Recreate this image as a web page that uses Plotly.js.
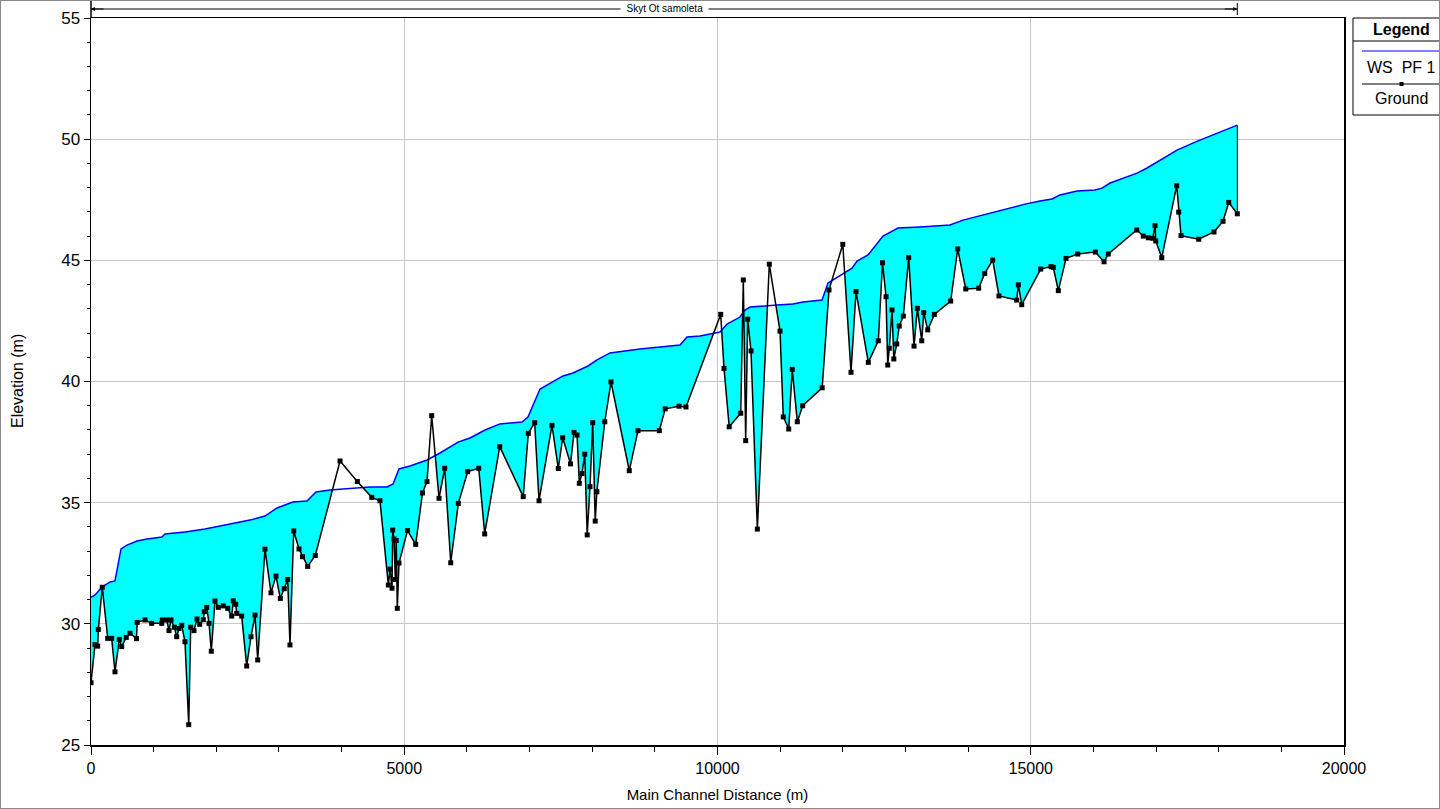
<!DOCTYPE html>
<html>
<head>
<meta charset="utf-8">
<script src="https://cdn.plot.ly/plotly-3.0.1.min.js"></script>
<style>
  html, body { margin: 0; padding: 0; background: #ffffff; }
  #wrap { position: relative; width: 1440px; height: 809px; overflow: hidden; }
  #chart { width: 1440px; height: 809px; }
  #frame { position: absolute; left: 0; top: 0; width: 1440px; height: 809px;
           box-sizing: border-box; border: 1px solid #8a8a8a; pointer-events: none; }
</style>
</head>
<body>
<div id="wrap">
  <div id="chart"></div>
  <div id="frame"></div>
</div>
<script>
// Profile: main channel distance (m) and elevations (m)
const groundDist = [
  0, 64, 107, 117, 180, 267, 330, 383, 452, 490, 563, 623, 726, 737, 862, 969,
  1129, 1138, 1208, 1245, 1277, 1330, 1368, 1405, 1448, 1500, 1560, 1591, 1644,
  1692, 1735, 1793, 1808, 1847, 1884, 1920, 1979, 2032, 2112, 2182, 2246, 2271,
  2310, 2326, 2405, 2485, 2554, 2618, 2661, 2777, 2873, 2953, 3022, 3085, 3140,
  3176, 3236, 3320, 3376, 3459, 3580, 3975, 4251, 4481, 4613, 4746, 4773, 4805,
  4816, 4837, 4857, 4872, 4889, 4916, 5052, 5183, 5291, 5363, 5438, 5555, 5646,
  5742, 5863, 6013, 6189, 6284, 6524, 6899, 6980, 7082, 7151, 7358, 7459, 7529,
  7654, 7710, 7758, 7794, 7837, 7881, 7920, 7965, 8008, 8048, 8074, 8201, 8300,
  8592, 8731, 9071, 9165, 9386, 9497, 10051, 10104, 10187, 10371, 10412, 10450,
  10482, 10535, 10636, 10827, 10998, 11050, 11137, 11193, 11274, 11360, 11671,
  11780, 12000, 12131, 12211, 12407, 12567, 12634, 12690, 12717, 12742, 12786,
  12814, 12861, 12901, 12966, 13052, 13137, 13190, 13260, 13292, 13356, 13461,
  13722, 13834, 13962, 14169, 14265, 14393, 14493, 14776, 14802, 14856, 15159,
  15324, 15360, 15440, 15563, 15750, 16031, 16170, 16238, 16692, 16797, 16877,
  16947, 16984, 16995, 17091, 17330, 17362, 17399, 17681, 17925, 18069, 18160,
  18297
];
const groundElev = [
  27.57, 29.14, 29.08, 29.77, 31.51, 29.40, 29.40, 28.02, 29.36, 29.06, 29.44,
  29.61, 29.39, 30.06, 30.16, 30.02, 30.02, 30.16, 30.16, 29.72, 30.16, 29.86,
  29.47, 29.81, 29.94, 29.26, 25.84, 29.86, 29.72, 30.20, 29.98, 30.17, 30.50,
  30.68, 30.02, 28.87, 30.94, 30.68, 30.74, 30.64, 30.32, 30.95, 30.81, 30.43,
  30.32, 28.26, 29.47, 30.36, 28.51, 33.08, 31.28, 31.97, 31.05, 31.45, 31.83,
  29.13, 33.83, 33.09, 32.77, 32.37, 32.82, 36.72, 35.87, 35.22, 35.08, 31.60,
  32.26, 31.47, 33.87, 33.50, 31.83, 33.44, 30.64, 32.51, 33.85, 33.28, 35.40,
  35.87, 38.59, 35.18, 36.42, 32.52, 34.97, 36.28, 36.42, 33.71, 37.31, 35.25,
  37.86, 38.30, 35.08, 38.19, 36.41, 37.68, 36.60, 37.90, 37.79, 35.80, 36.20,
  37.00, 33.67, 35.66, 38.30, 34.24, 35.45, 38.34, 39.98, 36.32, 37.97, 37.97,
  38.87, 38.98, 38.95, 42.77, 40.54, 38.13, 38.69, 44.19, 37.56, 42.57, 41.26,
  33.91, 44.84, 42.08, 38.54, 38.04, 40.50, 38.34, 39.00, 39.74, 43.78, 45.66,
  40.38, 43.71, 40.79, 41.68, 44.90, 43.50, 40.68, 41.37, 42.95, 40.93, 41.55,
  42.29, 42.70, 45.11, 41.46, 43.02, 41.68, 42.84, 42.13, 42.77, 43.32, 45.47,
  43.82, 43.85, 44.46, 45.01, 43.53, 43.36, 43.99, 43.17, 44.64, 44.74, 44.71,
  43.75, 45.08, 45.26, 45.34, 44.94, 45.26, 46.25, 46.00, 45.93, 45.91, 46.43,
  45.80, 45.11, 48.08, 46.99, 46.02, 45.87, 46.17, 46.61, 47.39, 46.92
];
// Water surface, profile PF 1
const wsDist = [
  0, 64, 176, 303, 383, 479, 575, 734, 894, 1133, 1181, 1500, 1820, 2139, 2346,
  2538, 2777, 2969, 3224, 3448, 3591, 3815, 4453, 4725, 4821, 4916, 5092, 5363,
  5571, 5858, 6050, 6289, 6528, 6880, 6975, 7087, 7167, 7534, 7694, 7933, 8077,
  8284, 8763, 9402, 9513, 9721, 10040, 10152, 10359, 10439, 10519, 10950, 11205,
  11365, 11668, 11764, 11844, 12147, 12227, 12402, 12642, 12881, 13232, 13711,
  13919, 14350, 14669, 14908, 15148, 15340, 15467, 15739, 16026, 16138, 16266,
  16697, 16856, 17016, 17335, 17622, 17941, 18297
];
const wsElev = [
  31.09, 31.19, 31.52, 31.73, 31.77, 33.09, 33.25, 33.42, 33.50, 33.58, 33.71,
  33.79, 33.91, 34.08, 34.20, 34.28, 34.45, 34.78, 35.03, 35.07, 35.44, 35.52,
  35.65, 35.65, 35.77, 36.39, 36.51, 36.76, 37.05, 37.50, 37.67, 38.00, 38.25,
  38.33, 38.53, 39.24, 39.69, 40.23, 40.35, 40.64, 40.89, 41.18, 41.34, 41.51,
  41.84, 41.88, 42.04, 42.37, 42.66, 42.95, 43.07, 43.16, 43.20, 43.28, 43.36,
  44.06, 44.19, 44.68, 44.97, 45.22, 46.00, 46.33, 46.38, 46.46, 46.66, 46.95,
  47.16, 47.32, 47.45, 47.53, 47.70, 47.86, 47.90, 47.98, 48.19, 48.60, 48.81,
  49.06, 49.55, 49.88, 50.21, 50.58
];
const xTickVals = [0, 5000, 10000, 15000, 20000];
const yTickVals = [25, 30, 35, 40, 45, 50, 55];
const reachName = 'Skyt Ot samoleta';
const wsName = 'WS  PF 1';
const groundName = 'Ground';

// Linear interpolation on a monotonic station list
function interp(xs, ys, x) {
  if (x <= xs[0]) return ys[0];
  if (x >= xs[xs.length - 1]) return ys[ys.length - 1];
  let i = 1;
  while (xs[i] < x) i++;
  const t = (x - xs[i - 1]) / (xs[i] - xs[i - 1]);
  return ys[i - 1] + t * (ys[i] - ys[i - 1]);
}

// Water area: between ground and water surface wherever water stands above ground
const stations = Array.from(new Set(groundDist.concat(wsDist))).sort((a, b) => a - b);
const upX = [], upY = [], loY = [];
for (let k = 0; k < stations.length; k++) {
  const x = stations[k];
  const g = interp(groundDist, groundElev, x);
  const w = interp(wsDist, wsElev, x);
  if (k > 0) {
    const xp = stations[k - 1];
    const gp = interp(groundDist, groundElev, xp);
    const wp = interp(wsDist, wsElev, xp);
    const d0 = wp - gp, d1 = w - g;
    if (d0 * d1 < 0) {
      const xc = xp + (d0 / (d0 - d1)) * (x - xp);
      const gc = interp(groundDist, groundElev, xc);
      upX.push(xc); upY.push(gc); loY.push(gc);
    }
  }
  upX.push(x); upY.push(Math.max(w, g)); loY.push(g);
}
const fillX = upX.concat(upX.slice().reverse());
const fillY = upY.concat(loY.slice().reverse());

const lastG = groundElev[groundElev.length - 1];
const lastW = wsElev[wsElev.length - 1];
const reachEnd = groundDist[groundDist.length - 1];

const FONT = 'Arial, "Liberation Sans", sans-serif';

const traces = [
  { x: fillX, y: fillY, mode: 'lines', fill: 'toself', fillcolor: '#00ffff',
    line: { width: 0, color: 'rgba(0,0,0,0)' }, hoverinfo: 'skip', showlegend: false },
  { x: [reachEnd, reachEnd], y: [lastG, lastW], mode: 'lines',
    line: { color: '#000000', width: 1 }, hoverinfo: 'skip', showlegend: false },
  { x: wsDist, y: wsElev, name: wsName, mode: 'lines',
    line: { color: '#0000ff', width: 1.5 }, showlegend: false },
  { x: groundDist, y: groundElev, name: groundName, mode: 'lines+markers',
    line: { color: '#000000', width: 1.5 },
    marker: { symbol: 'square', size: 5, color: '#000000' }, showlegend: false }
];

// Pixel helpers for decorations outside the plotting area (paper coordinates)
const px = v => (v - 91) / 1253;
const py = v => (745 - v) / 727;
const L = px(1353), R = px(1460), T = py(18), B = py(115);

const shapes = [
  // reach extent line
  { type: 'line', xref: 'x', yref: 'paper', x0: 0, x1: reachEnd, y0: py(9), y1: py(9),
    line: { color: '#000000', width: 1 } },
  { type: 'line', xref: 'x', yref: 'paper', x0: reachEnd, x1: reachEnd, y0: py(3), y1: py(15),
    line: { color: '#000000', width: 1 } },
  { type: 'line', xref: 'paper', yref: 'paper', x0: 0, x1: 0, y0: 1, y1: py(1),
    line: { color: '#000000', width: 1.5 } },
  // legend frame
  { type: 'path', xref: 'paper', yref: 'paper',
    path: `M ${L} ${B} L ${L} ${T} L ${R} ${T} L ${R} ${B} Z`,
    line: { color: '#000000', width: 1 }, fillcolor: '#ffffff' },
  { type: 'line', xref: 'paper', yref: 'paper', x0: L, x1: R, y0: py(41), y1: py(41),
    line: { color: '#000000', width: 1 } },
  { type: 'line', xref: 'paper', yref: 'paper', x0: px(1362), x1: R, y0: py(51), y1: py(51),
    line: { color: '#0000ff', width: 1.2 } },
  { type: 'line', xref: 'paper', yref: 'paper', x0: px(1362), x1: px(1440), y0: py(84), y1: py(84),
    line: { color: '#000000', width: 1 } },
  { type: 'rect', xref: 'paper', yref: 'paper', x0: px(1399.5), x1: px(1403.5), y0: py(86), y1: py(82),
    line: { width: 0 }, fillcolor: '#000000' }
];

const ann = (x, y, text, size, extra) => Object.assign({
  xref: 'paper', yref: 'paper', x: x, y: y, text: text, showarrow: false,
  xanchor: 'center', yanchor: 'middle', font: { family: FONT, size: size, color: '#000000' }
}, extra || {});

const annotations = [
  { xref: 'x', yref: 'paper', x: reachEnd / 2, y: py(9), text: '&nbsp;&nbsp;' + reachName + '&nbsp;&nbsp;',
    showarrow: false, xanchor: 'center', yanchor: 'middle', bgcolor: '#ffffff',
    font: { family: FONT, size: 10, color: '#000000' }, borderpad: 0 },
  { xref: 'x', yref: 'paper', x: 0, y: py(9), text: '', showarrow: true, arrowhead: 2,
    arrowsize: 0.8, arrowwidth: 1, arrowcolor: '#000000', ax: 14, ay: 0 },
  { xref: 'x', yref: 'paper', x: reachEnd, y: py(9), text: '', showarrow: true, arrowhead: 2,
    arrowsize: 0.8, arrowwidth: 1, arrowcolor: '#000000', ax: -14, ay: 0 },
  ann(px(1401), py(29), '<b>Legend</b>', 16),
  ann(px(1401), py(67), wsName.replace(/ /g, '&nbsp;'), 16),
  ann(px(1401), py(98), groundName, 16),
  ann(px(17), py(381), 'Elevation (m)', 16, { textangle: -90 })
];

const layout = {
  width: 1440, height: 809,
  margin: { l: 91, r: 96, t: 18, b: 64, pad: 0 },
  paper_bgcolor: '#ffffff', plot_bgcolor: '#ffffff',
  font: { family: FONT, size: 16, color: '#000000' },
  showlegend: false,
  xaxis: {
    range: [0, 20000], tickvals: xTickVals, ticktext: xTickVals.map(String),
    showgrid: true, gridcolor: '#c8c8c8', gridwidth: 1, zeroline: false,
    showline: true, linecolor: '#000000', linewidth: 1.5, mirror: true,
    ticks: 'outside', ticklen: 8, tickwidth: 1, tickcolor: '#000000',
    minor: { dtick: 1000, ticks: 'outside', ticklen: 5, tickwidth: 1, tickcolor: '#000000', showgrid: false },
    tickfont: { family: FONT, size: 16 },
    title: { text: 'Main Channel Distance (m)', font: { family: FONT, size: 15 }, standoff: 14 },
    automargin: false
  },
  yaxis: {
    range: [25, 55], tickvals: yTickVals, ticktext: yTickVals.map(String),
    showgrid: true, gridcolor: '#c8c8c8', gridwidth: 1, zeroline: false,
    showline: true, linecolor: '#000000', linewidth: 1.5, mirror: true,
    ticks: 'outside', ticklen: 6, tickwidth: 1, tickcolor: '#000000',
    minor: { dtick: 1, ticks: 'outside', ticklen: 3, tickwidth: 1, tickcolor: '#000000', showgrid: false },
    tickfont: { family: FONT, size: 17 },
    automargin: false
  },
  shapes: shapes,
  annotations: annotations
};

Plotly.newPlot('chart', traces, layout, { displayModeBar: false, staticPlot: true });
</script>
</body>
</html>
